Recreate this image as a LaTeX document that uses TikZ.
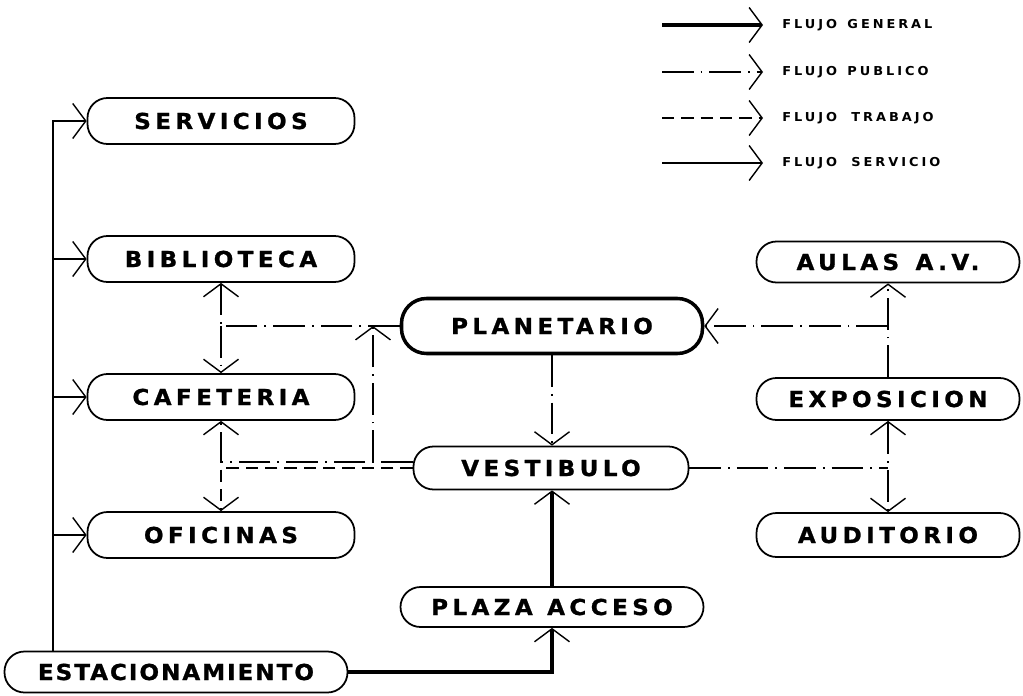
\documentclass[tikz,border=0pt]{standalone}
\usepackage{fontspec}
\newfontfamily\boxfont[LetterSpace=20, FakeStretch=1.05, FakeBold=1]{DejaVu Sans Bold}
\newfontfamily\legfont[LetterSpace=24, FakeStretch=1.05]{DejaVu Sans Bold}
\usetikzlibrary{positioning, arrows.meta}

\begin{document}
\begin{tikzpicture}[x=0.2mm, y=-0.2mm,
    >={Straight Barb[length=2.6mm, width=7mm, line width=0.8pt]},
    area/.style={draw, line width=1pt, rounded corners=4mm, minimum width=53.4mm, minimum height=9.2mm, inner sep=0pt, font=\boxfont\fontsize{12.5}{14}\selectfont},
    general/.style={line width=2.2pt},
    publico/.style={line width=0.8pt, dash pattern=on 18pt off 4pt on 1pt off 4pt},
    trabajo/.style={line width=0.8pt, dash pattern=on 7pt off 4pt},
    servicio/.style={line width=0.7pt},
    legtext/.style={anchor=west, inner sep=0pt, font=\legfont\fontsize{7}{8}\selectfont}]

    \useasboundingbox (0,0) rectangle (1023,695);

    \node[area] (servicios) at (221,121) {SERVICIOS};
    \node[area] (biblioteca) at (221,259) {BIBLIOTECA};
    \node[area] (cafeteria) at (221,397) {CAFETERIA};
    \node[area] (oficinas) at (221,535) {OFICINAS};
    \node[area, minimum width=68.6mm, minimum height=8.2mm] (estacionamiento) at (176,672) {\addfontfeature{LetterSpace=9}ESTACIONAMIENTO};

    \node[area, line width=2pt, minimum width=60.2mm, minimum height=11mm, rounded corners=5mm] (planetario) at (552,326) {PLANETARIO};
    \node[area, minimum width=55mm, minimum height=8.6mm] (vestibulo) at (551,468) {VESTIBULO};
    \node[area, minimum width=60.6mm, minimum height=8mm] (plaza) at (552,607) {PLAZA\hspace{0.4mm} ACCESO};

    \node[area, minimum width=52.6mm, minimum height=8.2mm] (aulas) at (888,262) {AULAS\hspace{0.8mm} A.V.};
    \node[area, minimum width=52.6mm, minimum height=8.4mm] (exposicion) at (888,399) {EXPOSICION};
    \node[area, minimum width=52.6mm, minimum height=8.8mm] (auditorio) at (888,535) {AUDITORIO};

    \coordinate (tronco) at (53,0);
    \coordinate (cruce) at (373,0);

    \draw[servicio, ->] (estacionamiento.north -| tronco) |- (servicios.west);
    \foreach \n in {biblioteca, cafeteria, oficinas}
        \draw[servicio, ->] (\n.west -| tronco) -- (\n.west);

    \draw[general, ->] (estacionamiento.east) -| (plaza.south);
    \draw[general, ->] (plaza.north) -- (vestibulo.south -| plaza.north);

    \draw[publico, ->] (planetario.south) -- (vestibulo.north -| planetario.south);
    \draw[publico, ->] (planetario.west) -| (biblioteca.south);
    \draw[publico, ->] (planetario.west -| biblioteca.south) -- (cafeteria.north);
    \draw[publico, ->] ([yshift=1.2mm]vestibulo.west) -| (cafeteria.south);
    \draw[publico, ->] ([yshift=1.2mm]vestibulo.west -| cruce) -- (planetario.west -| cruce);
    \draw[trabajo, ->] (vestibulo.west) -| (oficinas.north);

    \draw[publico, ->] (exposicion.north) -- (aulas.south);
    \draw[publico, ->] (planetario.east -| exposicion.north) -- (planetario.east);
    \draw[publico] (vestibulo.east) -- (vestibulo.east -| exposicion.south);
    \draw[publico, <->] (exposicion.south) -- (auditorio.north);

    \coordinate (g0) at (662,25);
    \coordinate (g1) at (763,25);
    \coordinate (p0) at (662,72);
    \coordinate (p1) at (763,72);
    \coordinate (t0) at (662,118);
    \coordinate (t1) at (763,118);
    \coordinate (s0) at (662,163);
    \coordinate (s1) at (763,163);

    \node[legtext] (lgeneral) at (782,25) {FLUJO\hspace{0.6mm} GENERAL};
    \node[legtext] (lpublico) at (782,72) {FLUJO\hspace{0.6mm} PUBLICO};
    \node[legtext] (ltrabajo) at (782,118) {FLUJO\hspace{1.4mm} TRABAJO};
    \node[legtext] (lservicio) at (782,163) {FLUJO\hspace{1.4mm} SERVICIO};

    \draw[general, ->] (g0) -- (g1);
    \draw[publico, ->] (p0) -- (p1);
    \draw[trabajo, ->] (t0) -- (t1);
    \draw[servicio, ->] (s0) -- (s1);

\end{tikzpicture}
\end{document}
